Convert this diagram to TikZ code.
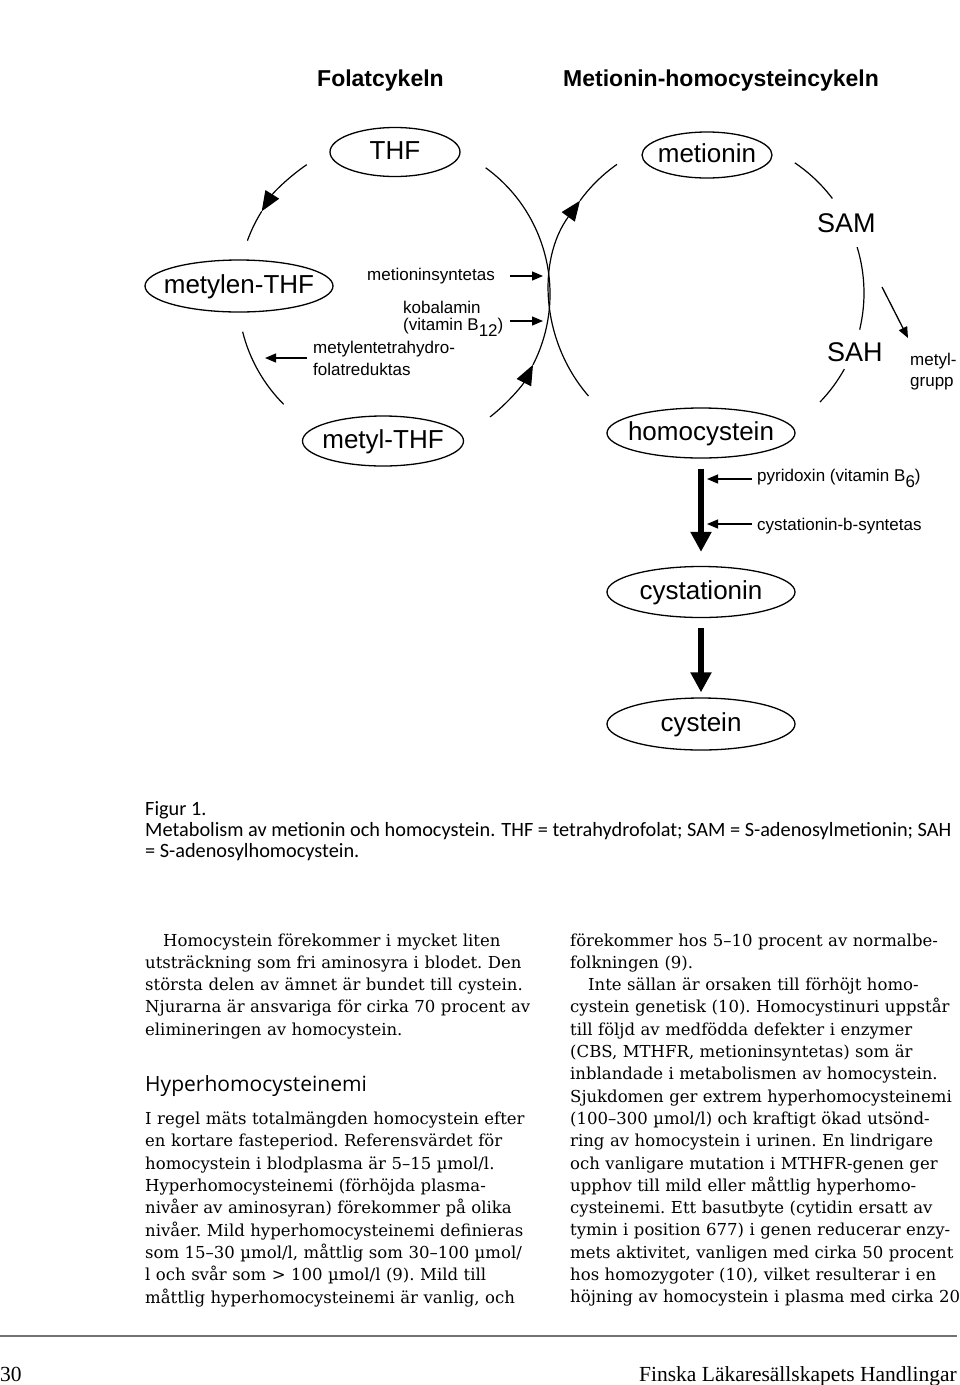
\documentclass[tikz,border=0pt]{standalone}
\usepackage{fontspec}
\setmainfont{DejaVu Serif}
\newfontfamily\diagfont{Liberation Sans}
\newfontfamily\capfont{Carlito}
\newfontfamily\headfont{Open Sans}
\newfontfamily\footfont{Liberation Serif}
\usetikzlibrary{arrows.meta, shapes.geometric}
\tikzset{
  stoff/.style={draw, ellipse, line width=1.3pt, inner sep=0pt, text height=19pt, text depth=5pt,
    font=\diagfont\fontsize{26}{28}\selectfont},
  cyc/.style={line width=1.2pt},
  cyctip/.style={cyc, -{Triangle[length=20pt,width=16pt]}},
  enz/.style={line width=1.3pt, -{Triangle[length=11pt,width=9pt]}},
  flowarrow/.style={line width=6pt, -{Triangle[length=20pt,width=20pt]}},
  enztext/.style={font=\diagfont\fontsize{17}{17}\selectfont, inner sep=0pt, align=left},
  cyctitle/.style={font=\diagfont\bfseries\fontsize{23}{25}\selectfont, inner sep=0pt},
  body/.style={font=\frenchspacing\fontsize{16.5}{22.3}\selectfont, inner sep=0pt, text width=386pt, align=left},
}
\newcommand{\stext}[1]{\makebox[0pt]{#1}}
\newcommand{\jline}[1]{\makebox[\hsize][s]{#1}\par}
\newcommand{\lowsub}[1]{\raisebox{-6pt}{#1}}

\begin{document}
\begin{tikzpicture}[x=1pt, y=-1pt]
    \fill[white] (0,0) rectangle (960,1385);
    \useasboundingbox (0,0) rectangle (960,1385);

    % titles
    \node[cyctitle, anchor=base west] (foltitle) at (317,86) {Folatcykeln};
    \node[cyctitle, anchor=base west] (mettitle) at (563,86) {Metionin-homocysteincykeln};

    % folate cycle
    \node[stoff, minimum width=130pt, minimum height=49pt] (thf) at (395,152) {\stext{THF}};
    \node[stoff, minimum width=188pt, minimum height=52pt] (metylenthf) at (239,286) {\stext{metylen-THF}};
    \node[stoff, minimum width=161pt, minimum height=50pt] (metylthf) at (383,441) {\stext{metyl-THF}};
    \coordinate (fol) at (394,294);
    \draw[cyctip] (fol) ++(236:156) arc[start angle=236, end angle=212, radius=156];
    \draw[cyc] (fol) ++(212:156) arc[start angle=212, end angle=200, radius=156];
    \draw[cyc] (fol) ++(166:156) arc[start angle=166, end angle=135, radius=156];
    \draw[cyctip] (fol) ++(52:156) arc[start angle=52, end angle=27, radius=156];
    \draw[cyc] (fol) ++(27:156) arc[start angle=27, end angle=-54, radius=156];

    % metionin cycle
    \node[stoff, minimum width=130pt, minimum height=46pt] (metionin) at (707,155) {\stext{metionin}};
    \node[stoff, minimum width=188pt, minimum height=50pt] (homocystein) at (701,433) {\stext{homocystein}};
    \node[font=\diagfont\fontsize{27}{28}\selectfont, inner sep=0pt, anchor=base west] (sam) at (817,232) {SAM};
    \node[font=\diagfont\fontsize{27}{28}\selectfont, inner sep=0pt, anchor=base west] (sah) at (827,361) {SAH};
    \coordinate (met) at (707,293);
    \draw[cyctip] (met) ++(139:157) arc[start angle=139, end angle=216, radius=157];
    \draw[cyc] (met) ++(216:157) arc[start angle=216, end angle=235, radius=157];
    \draw[cyc] (met) ++(-56:157) arc[start angle=-56, end angle=-37, radius=157];
    \draw[cyc] (met) ++(-17:157) arc[start angle=-17, end angle=13.5, radius=157];
    \draw[cyc] (met) ++(29:157) arc[start angle=29, end angle=44, radius=157];

    % enzymes and cofactors (base of a two-line node = its last line)
    \node[enztext, anchor=base west] (ms) at (367,280) {metioninsyntetas};
    \node[enztext, anchor=base west] (kob) at (403,330) {kobalamin\\(vitamin B\lowsub{12})};
    \node[enztext, anchor=base west, font=\diagfont\fontsize{17}{22}\selectfont] (mthfr) at (313,375) {metylentetrahydro-\\folatreduktas};
    \node[enztext, anchor=base west, font=\diagfont\fontsize{17}{21}\selectfont] (metyl) at (910,386) {metyl-\\grupp};
    \coordinate (ms-tip) at (543,276);
    \coordinate (kob-tip) at (543,321);
    \coordinate (mthfr-tip) at (265,358);
    \coordinate (mg-start) at (882,287);
    \coordinate (mg-tip) at (908,338);
    \draw[enz, shorten <=15pt] (ms.east |- ms-tip) -- (ms-tip);
    \draw[enz, shorten <=6pt] (kob.east |- kob-tip) -- (kob-tip);
    \draw[enz, shorten <=6pt] (mthfr.west |- mthfr-tip) -- (mthfr-tip);
    \draw[enz] (mg-start) -- (mg-tip);

    % transsulfuration
    \node[stoff, minimum width=188pt, minimum height=51pt] (cystationin) at (701,592) {\stext{cystationin}};
    \node[stoff, minimum width=188pt, minimum height=52pt] (cystein) at (701,724) {\stext{cystein}};
    \draw[flowarrow, shorten <=10pt, shorten >=14pt] (homocystein) -- (cystationin);
    \draw[flowarrow, shorten <=10pt, shorten >=5pt] (cystationin) -- (cystein);
    \node[enztext, anchor=base west] (pyr) at (757,481) {pyridoxin (vitamin B\lowsub{6})};
    \node[enztext, anchor=base west] (cbs) at (757,530) {cystationin-b-syntetas};
    \coordinate (pyr-tip) at (707,479);
    \coordinate (cbs-tip) at (707,524);
    \draw[enz, shorten <=5pt] (pyr.west |- pyr-tip) -- (pyr-tip);
    \draw[enz, shorten <=5pt] (cbs.west |- cbs-tip) -- (cbs-tip);

    % caption
    \node[font=\capfont\fontsize{20.3}{21}\selectfont, inner sep=0pt, align=left, anchor=base west] (caption) at (145,857)
        {Figur 1.\\Metabolism av metionin och homocystein. THF = tetrahydrofolat; SAM = S-adenosylmetionin; SAH\\= S-adenosylhomocystein.};

    % body text, left column
    \node[body, anchor=base west] (leftA) at (145,946) {%
        \jline{\hspace*{18pt}Homocystein förekommer i mycket liten}
        \jline{utsträckning som fri aminosyra i blodet. Den}
        \jline{största delen av ämnet är bundet till cystein.}
        \jline{Njurarna är ansvariga för cirka 70 procent av}
        elimineringen av homocystein.};
    \node[font=\headfont\fontsize{21}{22}\selectfont, inner sep=0pt, anchor=base west] (heading) at (145,1091) {Hyperhomocysteinemi};
    \node[body, anchor=base west] (leftB) at (145,1124.6) {%
        \jline{I regel mäts totalmängden homocystein efter}
        \jline{en kortare fasteperiod. Referensvärdet för}
        \jline{homocystein i blodplasma är 5–15 µmol/l.}
        \jline{Hyperhomocysteinemi (förhöjda plasma-}
        \jline{nivåer av aminosyran) förekommer på olika}
        \jline{nivåer. Mild hyperhomocysteinemi definieras}
        \jline{som 15–30 µmol/l, måttlig som 30–100 µmol/}
        \jline{l och svår som > 100 µmol/l (9). Mild till}
        \jline{måttlig hyperhomocysteinemi är vanlig, och}};

    % body text, right column
    \node[body, text width=388pt, anchor=base west] (right) at (570,946) {%
        \jline{förekommer hos 5–10 procent av normalbe-}
        folkningen (9).\par
        \jline{\hspace*{18pt}Inte sällan är orsaken till förhöjt homo-}
        \jline{cystein genetisk (10). Homocystinuri uppstår}
        \jline{till följd av medfödda defekter i enzymer}
        \jline{(CBS, MTHFR, metioninsyntetas) som är}
        \jline{inblandade i metabolismen av homocystein.}
        \jline{Sjukdomen ger extrem hyperhomocysteinemi}
        \jline{(100–300 µmol/l) och kraftigt ökad utsönd-}
        \jline{ring av homocystein i urinen. En lindrigare}
        \jline{och vanligare mutation i MTHFR-genen ger}
        \jline{upphov till mild eller måttlig hyperhomo-}
        \jline{cysteinemi. Ett basutbyte (cytidin ersatt av}
        \jline{tymin i position 677) i genen reducerar enzy-}
        \jline{mets aktivitet, vanligen med cirka 50 procent}
        \jline{hos homozygoter (10), vilket resulterar i en}
        \jline{höjning av homocystein i plasma med cirka 20}};

    % footer
    \coordinate (rule-l) at (0,1336);
    \coordinate (rule-r) at (957,1336);
    \draw[black!55, line width=2pt] (rule-l) -- (rule-r);
    \node[font=\footfont\fontsize{21.5}{22}\selectfont, inner sep=0pt, anchor=base west] (pagenr) at (0,1381) {30};
    \node[font=\footfont\fontsize{21.5}{22}\selectfont, inner sep=0pt, anchor=base east] (journal) at (957,1381) {Finska Läkaresällskapets Handlingar};
\end{tikzpicture}
\end{document}
